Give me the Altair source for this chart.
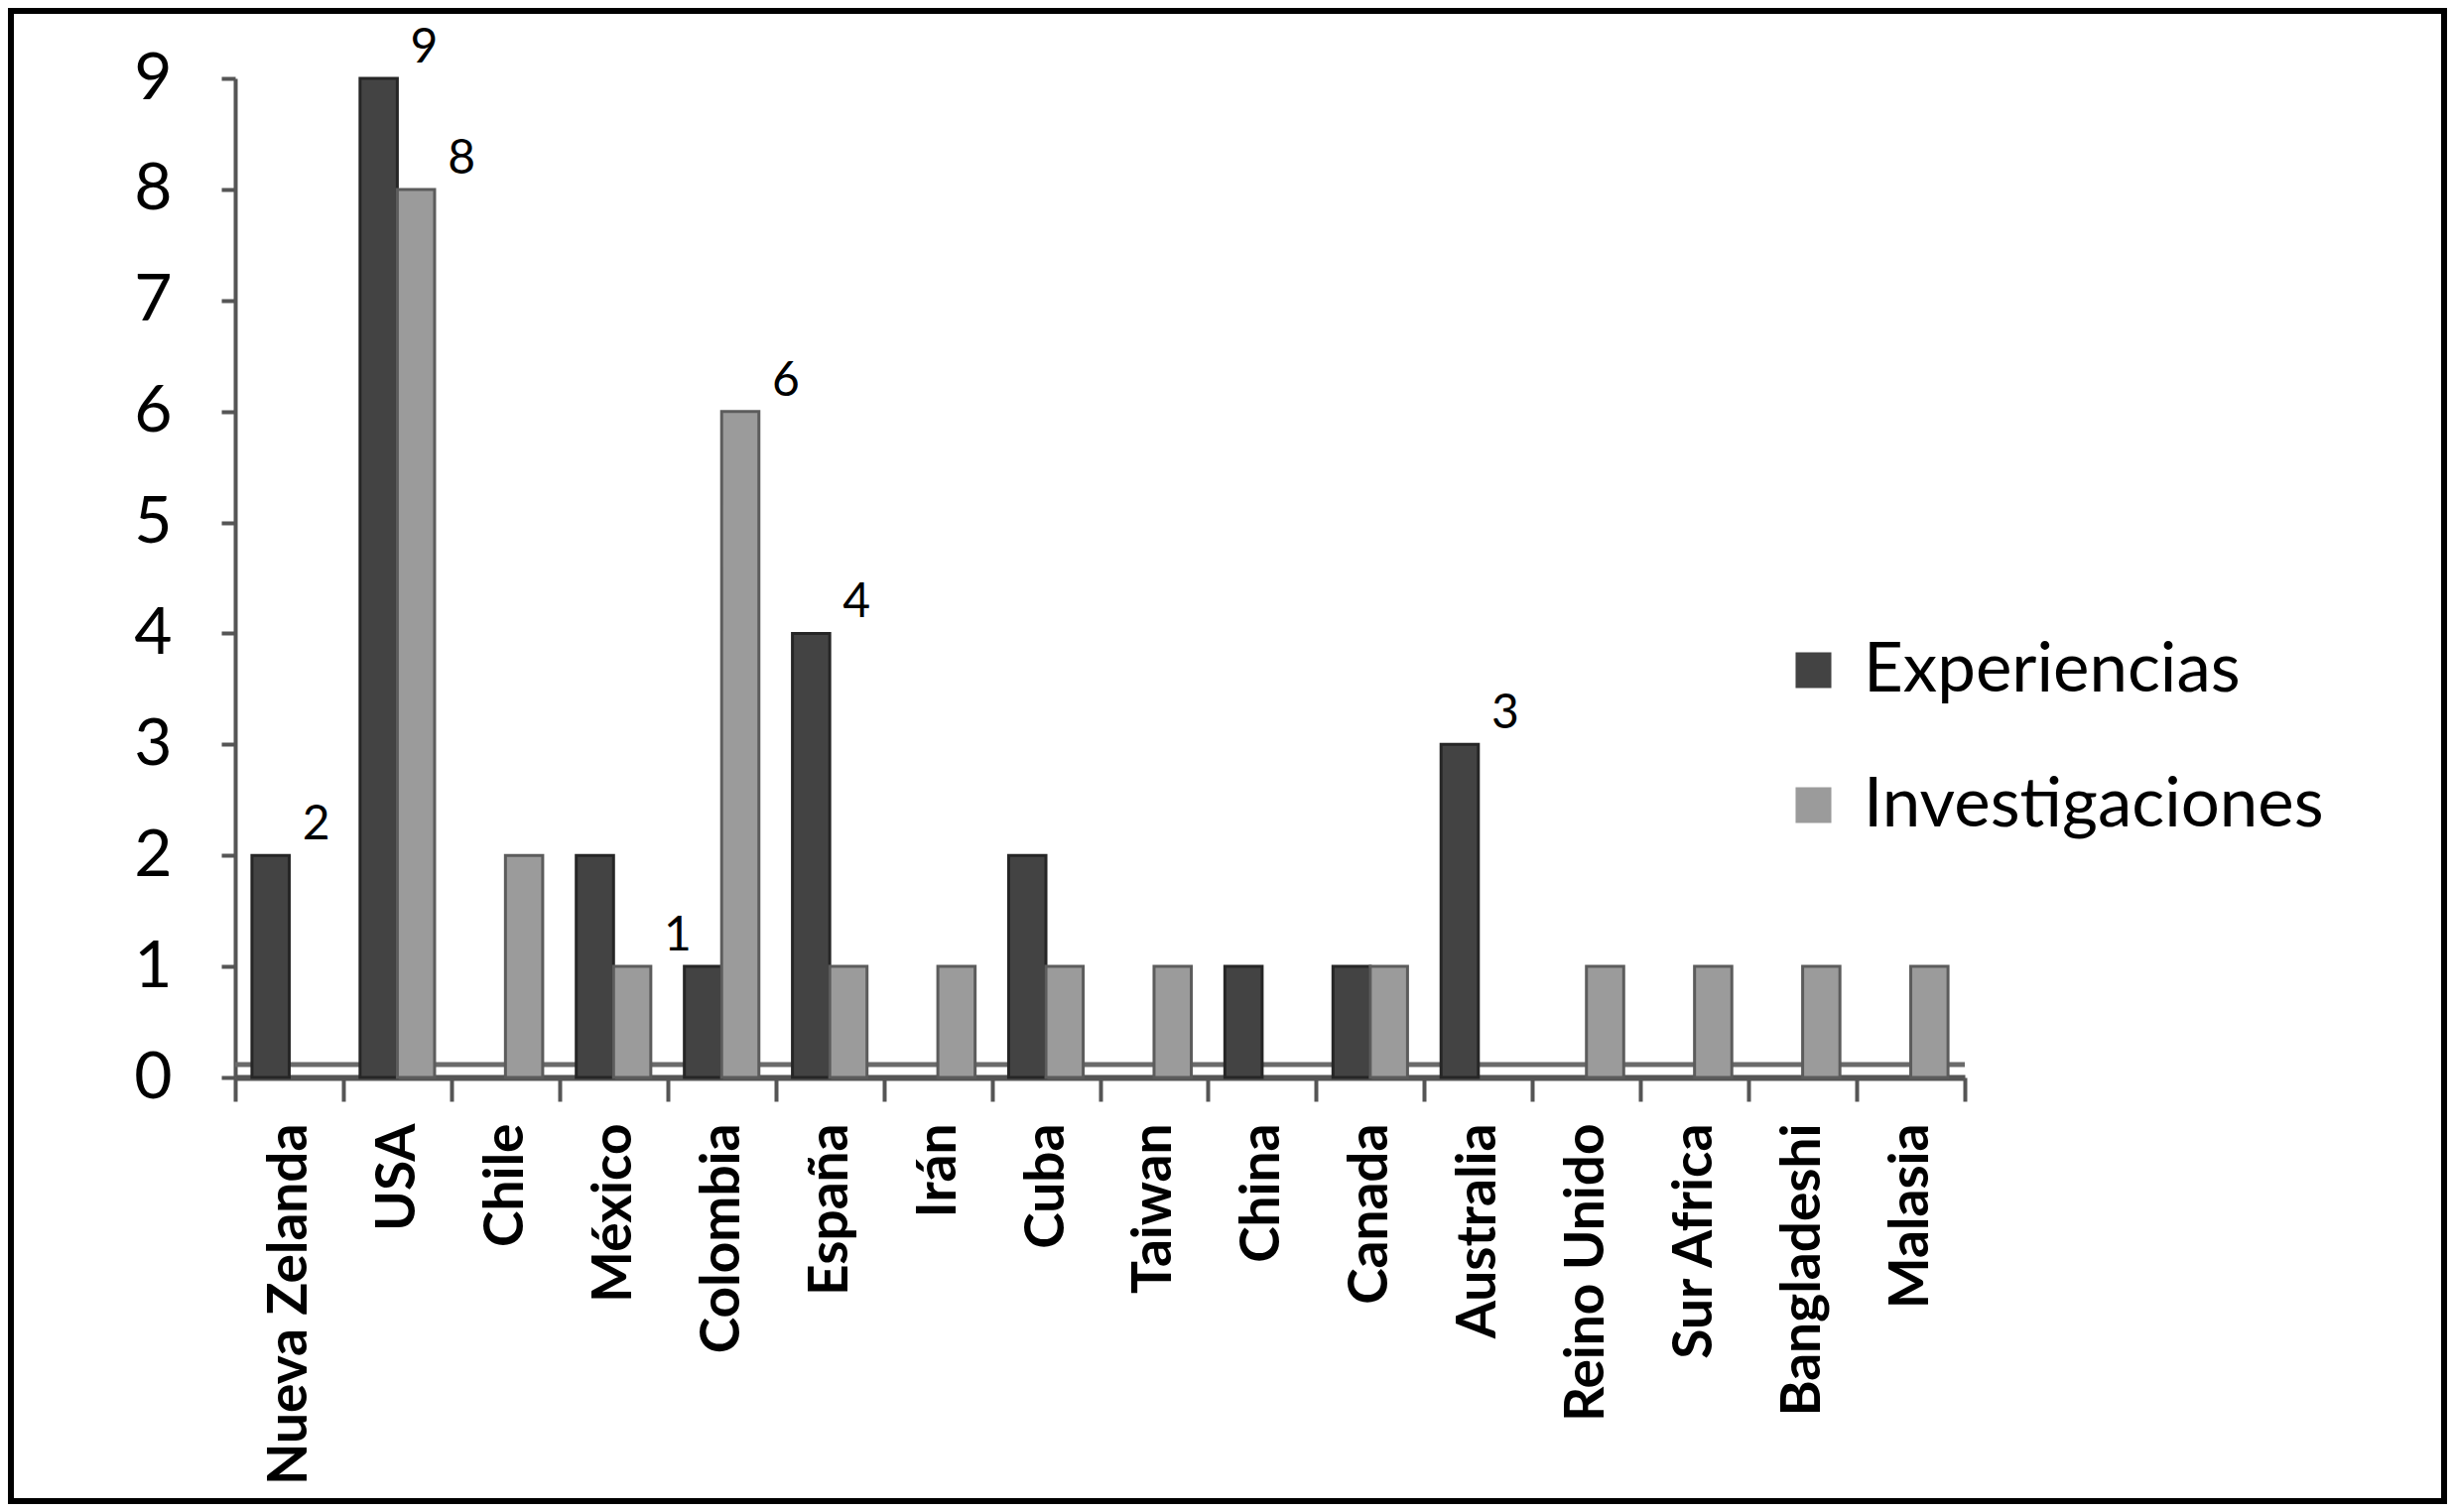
import altair as alt
import pandas as pd

countries = ["Nueva Zelanda", "USA", "Chile", "México", "Colombia", "España", "Irán", "Cuba",
             "Taiwan", "China", "Canada", "Australia", "Reino Unido", "Sur Africa", "Bangladeshi", "Malasia"]
experiencias = [2, 9, 0, 2, 1, 4, 0, 2, 0, 1, 1, 3, 0, 0, 0, 0]
investigaciones = [0, 8, 2, 1, 6, 1, 1, 1, 1, 0, 1, 0, 1, 1, 1, 1]
etiquetas_exp = ["2", "9", "", "", "", "4", "", "", "", "", "", "3", "", "", "", ""]
etiquetas_inv = ["", "8", "", "1", "6", "", "", "", "", "", "", "", "", "", "", ""]
series = ["Experiencias", "Investigaciones"]
colores = ["#434343", "#9b9b9b"]
bordes = ["#262626", "#5c5c5c"]

rows = []
for i, c in enumerate(countries):
    rows.append({"pais": c, "serie": series[0], "valor": experiencias[i], "etiqueta": etiquetas_exp[i]})
    rows.append({"pais": c, "serie": series[1], "valor": investigaciones[i], "etiqueta": etiquetas_inv[i]})
df = pd.DataFrame(rows)

W, H = 1743, 1007
PL, PT, PR, PB = 229, 71, 486, 430

x_enc = alt.X("pais:N", sort=countries, title=None,
              scale=alt.Scale(paddingInner=0, paddingOuter=0))
xo_enc = alt.XOffset("serie:N", sort=series,
                     scale=alt.Scale(domain=series, paddingInner=0, paddingOuter=0.45))
y_enc = alt.Y("valor:Q", title=None,
              scale=alt.Scale(domain=[0, 9], nice=False),
              axis=alt.Axis(values=list(range(10)), format="d"))

floor = alt.Chart(pd.DataFrame({"v": [0]})).mark_rule(
    color="#6a6a6a", strokeWidth=5, yOffset=-13
).encode(y=alt.Y("v:Q", title=None), x=alt.value(0), x2=alt.value(W))

bars = alt.Chart(df).transform_filter("datum.valor > 0").mark_bar(strokeWidth=3).encode(
    x=x_enc, xOffset=xo_enc, y=y_enc,
    color=alt.Color("serie:N", sort=series,
                    scale=alt.Scale(domain=series, range=colores),
                    legend=alt.Legend(title=None, orient="none", legendX=1556, legendY=562,
                                      labelFont="Lato", labelFontSize=69, labelColor="black",
                                      labelLimit=0,
                                      symbolType="square", symbolSize=1300, symbolStrokeWidth=0,
                                      symbolOpacity=1, rowPadding=66, labelOffset=16)),
    stroke=alt.Stroke("serie:N", scale=alt.Scale(domain=series, range=bordes), legend=None),
)

labels = alt.Chart(df).transform_filter("datum.etiqueta != ''").mark_text(
    align="left", baseline="bottom", dx=32, dy=-6, font="Lato", fontSize=48, color="black"
).encode(x=x_enc, xOffset=xo_enc, y=y_enc, text="etiqueta:N")

frame = alt.Chart(pd.DataFrame({"v": [0]})).mark_rect(
    fill="transparent", stroke="black", strokeWidth=12
).encode(x=alt.value(-PL), x2=alt.value(W + PR), y=alt.value(-PT), y2=alt.value(H + PB))

chart = alt.layer(floor, bars, labels, frame).properties(
    width=W, height=H,
    autosize=alt.AutoSizeParams(type="none"),
    padding={"left": PL, "top": PT, "right": PR, "bottom": PB},
    background="white",
).configure_view(stroke=None).configure_axisX(
    labelAngle=270, labelAlign="right", labelBaseline="middle",
    labelFont="Lato", labelFontWeight="bold", labelFontSize=55, labelColor="black",
    labelLimit=0,
    labelPadding=22, tickSize=24, tickWidth=4, tickColor="#555555", tickBand="extent",
    domainColor="#555555", domainWidth=6, grid=False,
).configure_axisY(
    labelFont="Lato", labelFontSize=66, labelColor="black", labelPadding=50,
    tickSize=14, tickWidth=4, tickColor="#555555",
    domainColor="#555555", domainWidth=4, grid=False,
)

chart.save("out.html", embed_options={"renderer": "svg", "actions": False})
